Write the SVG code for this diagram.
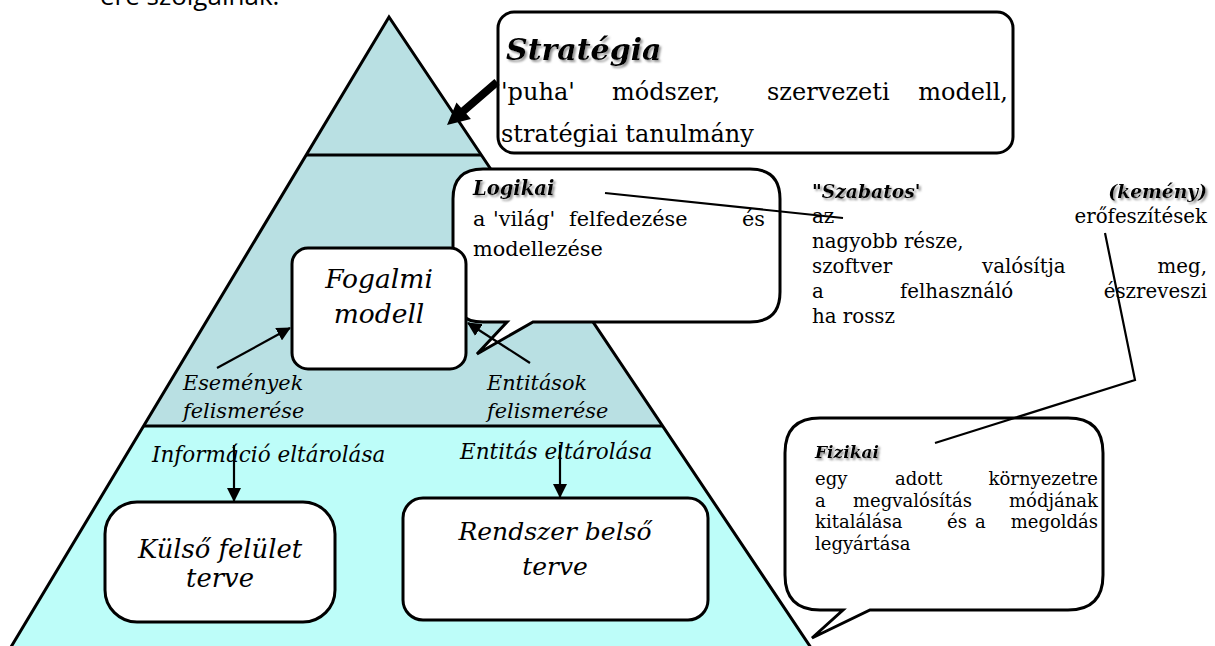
<svg xmlns="http://www.w3.org/2000/svg" width="1215" height="646" viewBox="0 0 1215 646">
<style>
.it{font-style:italic}
.bi{font-style:italic;font-weight:bold}
.box{fill:#fff;stroke:#000;stroke-width:3}
.edge{stroke:#000;stroke-width:3;fill:none}
.conn{stroke:#000;stroke-width:2.2;fill:none}
</style>
<defs>
<filter id="sh" x="-10%" y="-30%" width="130%" height="180%">
<feDropShadow dx="2" dy="2" stdDeviation="1" flood-color="#888" flood-opacity="0.9"/>
</filter>
<marker id="ah" markerWidth="14" markerHeight="14" refX="13" refY="7" orient="auto" markerUnits="userSpaceOnUse">
<path d="M0,0 L14,7 L0,14 Z" fill="#000"/>
</marker>
</defs>
<rect width="1215" height="646" fill="#fff"/>
<text x="100" y="5" font-family="Open Sans, sans-serif" font-size="26" fill="#000">ere szolgálnak.</text>

<g id="pyramid">
<polygon points="389,17 481.3,155 306.2,155" fill="#b9e0e3"/>
<polygon points="306.2,155 481.3,155 662.6,426 143.6,426" fill="#b9e0e3"/>
<polygon points="143.6,426 662.6,426 819.2,660 3.2,660" fill="#bdfdf9"/>
<polyline class="edge" points="3.2,660 389,17 819.2,660"/>
<line class="edge" x1="306.2" y1="155" x2="481.3" y2="155"/>
<line class="edge" x1="143.6" y1="426" x2="662.6" y2="426"/>
</g>

<g fill="#000" font-family="DejaVu Serif, serif">
<g id="strategia">
<rect class="box" x="498" y="12" width="515" height="141" rx="16"/>
<text class="bi" x="506" y="60" font-size="30" filter="url(#sh)">Stratégia</text>
<text font-size="24" y="100"><tspan x="501">'puha'</tspan><tspan x="612">módszer,</tspan><tspan x="767">szervezeti</tspan><tspan x="1008" text-anchor="end">modell,</tspan></text>
<text font-size="24" x="501" y="142">stratégiai tanulmány</text>
</g>

<g id="logikai">
<path class="box" d="M483,169 H750 Q780,169 780,199 V292 Q780,322 750,322 H533 L477,354 L507,322 H483 Q453,322 453,292 V199 Q453,169 483,169 Z"/>
<text class="bi" x="473" y="195" font-size="19.5" filter="url(#sh)">Logikai</text>
<text font-size="20.8" y="226"><tspan x="473">a</tspan><tspan x="493">'világ'</tspan><tspan x="569">felfedezése</tspan><tspan x="765" text-anchor="end">és</tspan></text>
<text font-size="20.8" x="473" y="256">modellezése</text>
</g>

<g id="fogalmi">
<rect class="box" x="292" y="248" width="174" height="121" rx="16"/>
<text class="it" x="379" y="288" font-size="26.5" text-anchor="middle">Fogalmi</text>
<text class="it" x="379" y="323" font-size="26.5" text-anchor="middle">modell</text>
</g>

<g id="esemenyek">
<text class="it" x="183" y="390" font-size="20.8">Események</text>
<text class="it" x="183" y="418" font-size="20.8">felismerése</text>
</g>
<g id="entitasok">
<text class="it" x="487" y="390" font-size="20.8">Entitások</text>
<text class="it" x="487" y="418" font-size="20.8">felismerése</text>
</g>

<g id="informacio">
<text class="it" x="152" y="462" font-size="21.5">Információ eltárolása</text>
</g>
<g id="entitas-eltarolasa">
<text class="it" x="460" y="459" font-size="21.5">Entitás eltárolása</text>
</g>

<g id="kulso">
<rect class="box" x="105" y="502" width="230" height="120" rx="32"/>
<text class="it" x="220" y="558" font-size="25.8" text-anchor="middle">Külső felület</text>
<text class="it" x="220" y="587" font-size="25.8" text-anchor="middle">terve</text>
</g>

<g id="rendszer">
<rect class="box" x="403" y="498" width="305" height="122" rx="20"/>
<text class="it" x="555" y="540" font-size="25" text-anchor="middle">Rendszer belső</text>
<text class="it" x="555" y="575" font-size="25" text-anchor="middle">terve</text>
</g>

<g id="szabatos">
<text class="bi" x="812" y="198" font-size="18.7" filter="url(#sh)">"Szabatos'</text>
<text class="bi" x="1207" y="198" font-size="18.7" text-anchor="end" filter="url(#sh)">(kemény)</text>
<text font-size="19.8" y="223"><tspan x="812">az</tspan><tspan x="1207" text-anchor="end">erőfeszítések</tspan></text>
<text font-size="19.8" x="812" y="248">nagyobb része,</text>
<text font-size="19.8" y="273"><tspan x="812">szoftver</tspan><tspan x="982">valósítja</tspan><tspan x="1207" text-anchor="end">meg,</tspan></text>
<text font-size="19.8" y="298"><tspan x="812">a</tspan><tspan x="900">felhasználó</tspan><tspan x="1207" text-anchor="end">észreveszi</tspan></text>
<text font-size="19.8" x="812" y="323">ha rossz</text>
</g>

<g id="fizikai">
<path class="box" d="M820,418 H1068 Q1103,418 1103,453 V575 Q1103,610 1068,610 H870 L812,638 L843,610 H820 Q785,610 785,575 V453 Q785,418 820,418 Z"/>
<text class="bi" x="815" y="458" font-size="17" filter="url(#sh)">Fizikai</text>
<text font-size="18" y="485"><tspan x="815">egy</tspan><tspan x="895">adott</tspan><tspan x="1098" text-anchor="end">környezetre</tspan></text>
<text font-size="18" y="507"><tspan x="815">a</tspan><tspan x="853">megvalósítás</tspan><tspan x="1098" text-anchor="end">módjának</tspan></text>
<text font-size="18" y="528"><tspan x="815">kitalálása</tspan><tspan x="947">és</tspan><tspan x="975">a</tspan><tspan x="1098" text-anchor="end">megoldás</tspan></text>
<text font-size="18" x="815" y="550">legyártása</text>
</g>
</g>

<g id="connectors">
<polygon points="494.4,79 499.6,85 466.3,113.7 470.9,119 447,125 456.5,102.4 461.1,107.7" fill="#000"/>
<line class="conn" x1="605" y1="193" x2="843" y2="218"/>
<polyline class="conn" points="1105,233 1135,380 935,443"/>
<line class="conn" x1="217" y1="368" x2="290" y2="328" marker-end="url(#ah)"/>
<line class="conn" x1="530" y1="363" x2="468" y2="323" marker-end="url(#ah)"/>
<line class="conn" x1="234" y1="445" x2="234" y2="501" marker-end="url(#ah)"/>
<line class="conn" x1="560" y1="445" x2="560" y2="497" marker-end="url(#ah)"/>
</g>
</svg>
